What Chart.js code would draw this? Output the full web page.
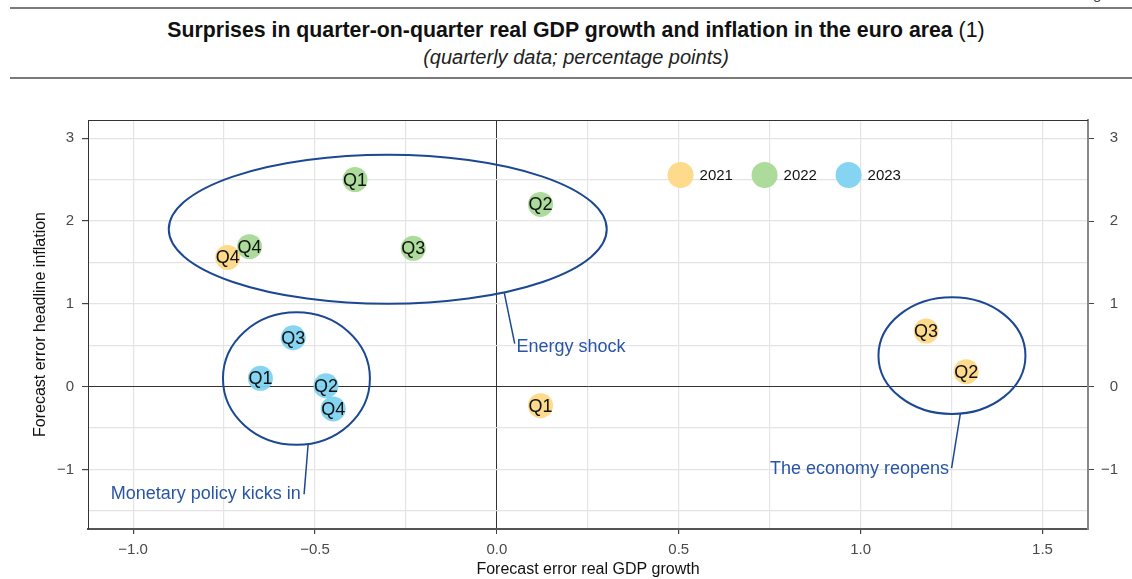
<!DOCTYPE html>
<html>
<head>
<meta charset="utf-8">
<script src="https://cdn.jsdelivr.net/npm/chart.js@4/dist/chart.umd.min.js"></script>
<style>
  html, body { margin: 0; padding: 0; background: #fff; }
  body { width: 1132px; height: 579px; position: relative; overflow: hidden; font-family: "Liberation Sans", Arial, sans-serif; }
  .rule { position: absolute; left: 10px; right: 0; height: 2px; background: #7a7a7a; }
  #title { position: absolute; left: 20px; width: 1112px; top: 18px; text-align: center; font-size: 21.3px; color: #111; }
  #title b { font-weight: bold; }
  #subtitle { position: absolute; left: 20px; width: 1112px; top: 46px; text-align: center; font-size: 20px; font-style: italic; color: #222; }
  #corner { position: absolute; right: 14px; top: -15px; font-size: 15px; color: #444; }
  #wrap { position: absolute; left: 0; top: 0; width: 1132px; height: 579px; }
</style>
</head>
<body>
<div id="corner">Fig. 1</div>
<div class="rule" style="top:7px"></div>
<div id="title"><b>Surprises in quarter-on-quarter real GDP growth and inflation in the euro area</b> (1)</div>
<div id="subtitle">(quarterly data; percentage points)</div>
<div class="rule" style="top:77px"></div>
<div id="wrap"><canvas id="chart"></canvas></div>

<script>
// ---- data ----
const years = ['2021', '2022', '2023'];
const quarters = ['Q1', 'Q2', 'Q3', 'Q4'];

// x = forecast error real GDP growth, y = forecast error headline inflation
const gdp2021 = [0.12, 1.29, 1.18, -0.74];
const infl2021 = [-0.23, 0.18, 0.67, 1.56];
const gdp2022 = [-0.39, 0.12, -0.23, -0.68];
const infl2022 = [2.50, 2.20, 1.67, 1.69];
const gdp2023 = [-0.65, -0.47, -0.56, -0.45];
const infl2023 = [0.10, 0.01, 0.59, -0.27];

// axes
const xMajor = [-1.0, -0.5, 0, 0.5, 1.0, 1.5];
const xLabels = ['\u22121.0', '\u22120.5', '0.0', '0.5', '1.0', '1.5'];
const xMinor = [-0.75, -0.25, 0.25, 0.75, 1.25];
const yMajor = [-1, 0, 1, 2, 3];
const yLabels = ['\u22121', '0', '1', '2', '3'];
const yMinor = [-1.5, -0.5, 0.5, 1.5, 2.5];

// annotation groups
const groupNames = ['Energy shock', 'Monetary policy kicks in', 'The economy reopens'];

// ---- styles ----
const yearColors = ['rgba(253,216,134,0.95)', 'rgba(168,217,150,0.95)', 'rgba(126,210,240,0.95)'];
const annoLine = '#1c4893';
const annoText = '#2a55a6';
const FONT = '"Liberation Sans", Arial, sans-serif';

// ellipse + leader geometry in data units
const groupShapes = [
  { cx: -0.30, cy: 1.90, rx: 0.602, ry: 0.90, from: [0.020, 1.14], to: [0.049, 0.52], text: [0.054, 0.48], align: 'left' },
  { cx: -0.551, cy: 0.097, rx: 0.202, ry: 0.80, from: [-0.519, -0.705], to: [-0.530, -1.30], text: [-0.539, -1.30], align: 'right' },
  { cx: 1.251, cy: 0.374, rx: 0.202, ry: 0.705, from: [1.274, -0.33], to: [1.250, -0.985], text: [1.243, -0.99], align: 'right' }
];
const legendAnchor = { x: 0.505, y: 2.555 };

function toPoints(xs, ys) {
  return xs.map((x, i) => ({ x: x, y: ys[i] }));
}

const datasets = [
  { label: years[0], data: toPoints(gdp2021, infl2021) },
  { label: years[1], data: toPoints(gdp2022, infl2022) },
  { label: years[2], data: toPoints(gdp2023, infl2023) }
].map((d, i) => Object.assign(d, {
  backgroundColor: yearColors[i],
  borderWidth: 0,
  pointRadius: 12.5,
  pointHoverRadius: 12.5
}));

// ellipses, leaders, annotation text
const groupsPlugin = {
  id: 'groups',
  afterDatasetsDraw(chart) {
    const { ctx, scales: { x, y } } = chart;
    ctx.save();
    ctx.strokeStyle = annoLine;
    groupShapes.forEach((g, i) => {
      const px = x.getPixelForValue(g.cx);
      const py = y.getPixelForValue(g.cy);
      const prx = Math.abs(x.getPixelForValue(g.cx + g.rx) - px);
      const pry = Math.abs(y.getPixelForValue(g.cy + g.ry) - py);
      ctx.lineWidth = 2;
      ctx.beginPath();
      ctx.ellipse(px, py, prx, pry, 0, 0, Math.PI * 2);
      ctx.stroke();
      ctx.lineWidth = 1.5;
      ctx.beginPath();
      ctx.moveTo(x.getPixelForValue(g.from[0]), y.getPixelForValue(g.from[1]));
      ctx.lineTo(x.getPixelForValue(g.to[0]), y.getPixelForValue(g.to[1]));
      ctx.stroke();
      ctx.fillStyle = annoText;
      ctx.font = '18px ' + FONT;
      ctx.textAlign = g.align;
      ctx.textBaseline = 'middle';
      ctx.fillText(groupNames[i], x.getPixelForValue(g.text[0]), y.getPixelForValue(g.text[1]));
    });
    ctx.restore();
  }
};

// quarter labels on the bubbles
const quarterLabels = {
  id: 'quarterLabels',
  afterDatasetsDraw(chart) {
    const ctx = chart.ctx;
    ctx.save();
    ctx.font = '18px ' + FONT;
    ctx.fillStyle = '#111';
    ctx.textAlign = 'center';
    ctx.textBaseline = 'middle';
    chart.data.datasets.forEach((ds, i) => {
      chart.getDatasetMeta(i).data.forEach((pt, j) => {
        ctx.fillText(quarters[j], pt.x, pt.y + 1);
      });
    });
    ctx.restore();
  }
};

// legend drawn inside the panel, plus the top border of the panel
const innerLegend = {
  id: 'innerLegend',
  afterDraw(chart) {
    const { ctx, chartArea, scales: { x, y } } = chart;
    ctx.save();
    ctx.strokeStyle = '#333';
    ctx.lineWidth = 1;
    ctx.beginPath();
    ctx.moveTo(chartArea.left, chartArea.top + 0.5);
    ctx.lineTo(chartArea.right, chartArea.top + 0.5);
    ctx.stroke();

    let lx = x.getPixelForValue(legendAnchor.x);
    const ly = y.getPixelForValue(legendAnchor.y);
    ctx.font = '15px ' + FONT;
    ctx.textBaseline = 'middle';
    ctx.textAlign = 'left';
    chart.data.datasets.forEach((ds) => {
      ctx.fillStyle = ds.backgroundColor;
      ctx.beginPath();
      ctx.arc(lx, ly, 13, 0, Math.PI * 2);
      ctx.fill();
      ctx.fillStyle = '#111';
      ctx.fillText(ds.label, lx + 19, ly + 1);
      lx += 84;
    });
    ctx.restore();
  }
};

function mergedTicks(major, minor) {
  return major.concat(minor).sort((a, b) => a - b).map(v => ({ value: v }));
}

const tickFont = { family: FONT, size: 15 };
const titleFont = { family: FONT, size: 16 };

new Chart(document.getElementById('chart'), {
  type: 'scatter',
  data: { datasets: datasets },
  plugins: [groupsPlugin, quarterLabels, innerLegend],
  options: {
    responsive: true,
    maintainAspectRatio: false,
    animation: false,
    layout: { padding: { top: 120, left: 0, right: 14, bottom: 0 } },
    plugins: {
      legend: { display: false },
      tooltip: { enabled: false }
    },
    scales: {
      x: {
        type: 'linear',
        min: -1.124,
        max: 1.625,
        afterBuildTicks: s => { s.ticks = mergedTicks(xMajor, xMinor); },
        afterFit: s => { s.height = 50; },
        ticks: {
          autoSkip: false,
          maxRotation: 0,
          color: '#4a4a4a',
          font: tickFont,
          padding: 7,
          callback: v => { const i = xMajor.indexOf(v); return i >= 0 ? xLabels[i] : ''; }
        },
        grid: {
          color: c => (c.tick && c.tick.value === 0) ? '#333' : '#e4e4e4',
          lineWidth: c => (c.tick && c.tick.value === 0) ? 1 : 1.2,
          tickColor: c => (c.tick && xMajor.includes(c.tick.value)) ? '#444' : 'rgba(0,0,0,0)',
          tickLength: 5
        },
        border: { color: '#555', width: 2 },
        title: { display: true, text: 'Forecast error real GDP growth', color: '#111', font: titleFont, padding: { top: 0, bottom: 0 } }
      },
      y: {
        type: 'linear',
        position: 'left',
        min: -1.72,
        max: 3.22,
        afterBuildTicks: s => { s.ticks = mergedTicks(yMajor, yMinor); },
        afterFit: s => { s.width = 88; },
        ticks: {
          autoSkip: false,
          color: '#4a4a4a',
          font: tickFont,
          padding: 8,
          callback: v => { const i = yMajor.indexOf(v); return i >= 0 ? yLabels[i] : ''; }
        },
        grid: {
          color: c => (c.tick && c.tick.value === 0) ? '#333' : '#e4e4e4',
          lineWidth: c => (c.tick && c.tick.value === 0) ? 1 : 1.2,
          tickColor: c => (c.tick && yMajor.includes(c.tick.value)) ? '#444' : 'rgba(0,0,0,0)',
          tickLength: 6
        },
        border: { color: '#333', width: 1 },
        title: { display: true, text: 'Forecast error headline inflation', color: '#111', font: titleFont, padding: { top: 31, bottom: 0 } }
      },
      y2: {
        type: 'linear',
        position: 'right',
        min: -1.72,
        max: 3.22,
        afterBuildTicks: s => { s.ticks = yMajor.map(v => ({ value: v })); },
        afterFit: s => { s.width = 30; },
        ticks: {
          autoSkip: false,
          color: '#4a4a4a',
          font: tickFont,
          padding: 8,
          crossAlign: 'far',
          callback: v => { const i = yMajor.indexOf(v); return i >= 0 ? yLabels[i] : ''; }
        },
        grid: { drawOnChartArea: false, tickColor: '#444', tickLength: 6 },
        border: { color: '#888', width: 2 }
      }
    }
  }
});
</script>
</body>
</html>
